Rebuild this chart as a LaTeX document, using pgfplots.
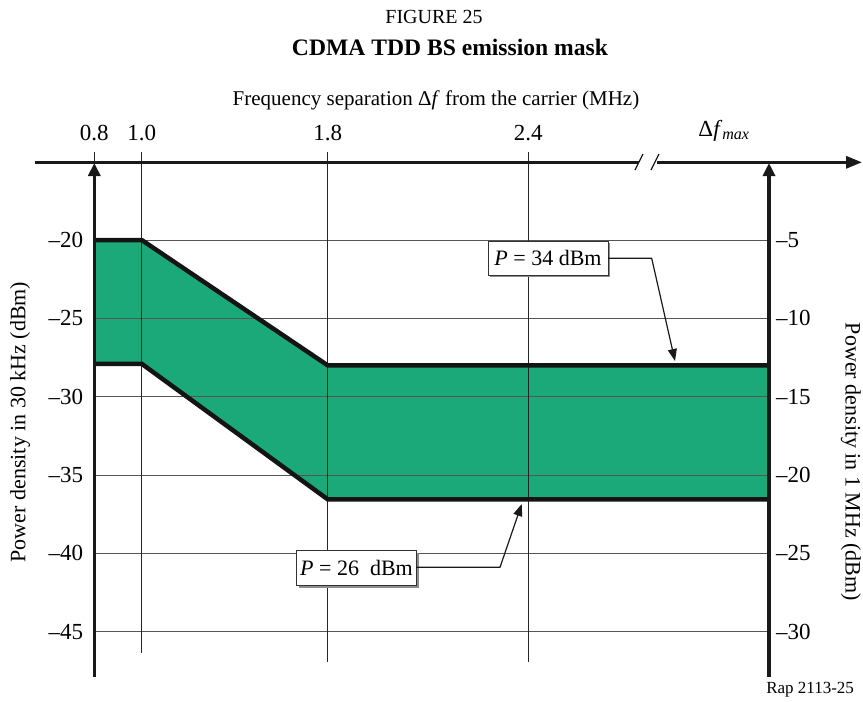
\documentclass[border=0pt]{standalone}
\usepackage{fontspec}
\setmainfont{Liberation Serif}
\usepackage{pgfplots}
\usepackage{pgfplotstable}
\pgfplotsset{compat=1.18}
\usepgfplotslibrary{fillbetween}
\usetikzlibrary{arrows.meta,shadows}

\definecolor{maskgreen}{RGB}{28,169,121}
\definecolor{gridgray}{RGB}{85,85,85}

% x positions are drawn to the figure's (non-linear) scale:
% 0.8 -> 0, 1.0 -> 47.4, 1.8 -> 233.4, 2.4 -> 434, df_max -> 674.7
\pgfplotstableread{
x      y
0      -20
47.4   -20
233.4  -28
674.7  -28
}\upperdata
\pgfplotstableread{
x      y
0      -27.9
47.4   -27.9
233.4  -36.55
674.7  -36.55
}\lowerdata

\begin{document}
\begin{tikzpicture}

\begin{axis}[
    at={(47.15pt,-338.35pt)}, anchor=south west,
    scale only axis, width=337.35pt, height=257.2pt,
    xmin=0, xmax=674.7, ymin=-47.87, ymax=-15.04,
    clip=false,
    axis line style={draw=none},
    major tick length=0pt,
    ticklabel style={font=\fontsize{11.5}{13}\selectfont},
    xtick={0,47.4,233.4,434,630},
    xticklabels={0.8,1.0,1.8,2.4,{Δ\textit{f}\textsubscript{\textit{max}}}},
    xticklabel pos=upper,
    xticklabel style={yshift=7pt},
    ytick={-45,-40,-35,-30,-25,-20},
    yticklabels={\textendash45,\textendash40,\textendash35,\textendash30,\textendash25,\textendash20},
    yticklabel style={xshift=-2pt},
  ]
  \addplot[name path=up, draw=none] table {\upperdata};
  \addplot[name path=low, draw=none] table {\lowerdata};
  \addplot[fill=maskgreen, draw=none] fill between[of=up and low];

  % grid
  \pgfplotsinvokeforeach{-45,-40,-35,-30,-25,-20}{
    \draw[gridgray, line width=0.5pt] (axis cs:0,#1) -- (axis cs:674.7,#1);
  }
  \draw[black!85, line width=0.5pt] (axis cs:47.4,-14.38) -- (axis cs:47.4,-46.36);
  \draw[black!85, line width=0.5pt] (axis cs:233.4,-14.38) -- (axis cs:233.4,-46.93);
  \draw[black!85, line width=0.5pt] (axis cs:434,-14.38) -- (axis cs:434,-46.93);
  \draw[black!85, line width=0.5pt] (axis cs:0,-14.38) -- (axis cs:0,-15.04);

  % mask limits
  \addplot[black!92, line width=2.25pt, line join=miter] table {\upperdata};
  \addplot[black!92, line width=2.25pt, line join=miter] table {\lowerdata};
\end{axis}

\begin{axis}[
    at={(47.15pt,-338.35pt)}, anchor=south west,
    scale only axis, width=337.35pt, height=257.2pt,
    xmin=0, xmax=674.7, ymin=-32.87, ymax=-0.04,
    axis line style={draw=none},
    major tick length=0pt,
    ticklabel style={font=\fontsize{11.5}{13}\selectfont},
    xtick=\empty,
    ytick={-30,-25,-20,-15,-10,-5},
    yticklabels={\textendash30,\textendash25,\textendash20,\textendash15,\textendash10,\textendash5},
    yticklabel pos=right,
  ]
  \addplot[draw=none] coordinates {(0,-30) (674.7,-5)};
\end{axis}

\begin{scope}[x=0.5pt,y=-0.5pt]
% axes
\draw[black!90, line width=1.6pt] (35,162.3) -- (639,162.3);
\draw[black!90, line width=1.6pt, -{Triangle[length=8pt,width=6pt]}] (657,162.3) -- (862,162.3);
\draw[black!90, line width=0.6pt] (635,170) -- (643,154);
\draw[black!90, line width=0.6pt] (651,170) -- (659,154);
\draw[black!90, line width=1.6pt, -{Triangle[length=6.5pt,width=6pt]}] (94.3,676.7) -- (94.3,163);
\draw[black!90, line width=1.6pt, -{Triangle[length=6.5pt,width=6pt]}] (769,676.7) -- (769,163);

% annotations
\node[draw=black!80, line width=0.5pt, fill=white, minimum width=60pt, minimum height=17pt,
      inner sep=1pt, font=\fontsize{11}{13}\selectfont,
      drop shadow={shadow xshift=1.2pt, shadow yshift=-1.2pt, fill=black!45, opacity=1}]
  at (548,258) {\textit{P} = 34 dBm};
\draw[black!90, line width=0.6pt, -{Triangle[length=6pt,width=4.5pt]}] (608,258.3) -- (651.7,258.3) -- (675,361);
\node[draw=black!80, line width=0.5pt, fill=white, minimum width=60pt, minimum height=17.5pt,
      inner sep=1pt, font=\fontsize{11}{13}\selectfont,
      drop shadow={shadow xshift=1.2pt, shadow yshift=-1.2pt, fill=black!45, opacity=1}]
  at (356.5,568) {\textit{P} = 26\enspace dBm};
\draw[black!90, line width=0.6pt, -{Triangle[length=6pt,width=4.5pt]}] (416,567.3) -- (500,567.3) -- (521.7,504);

% titles and labels
\node[font=\fontsize{10}{12}\selectfont] at (434,17) {FIGURE 25};
\node[font=\fontsize{11.8}{14}\selectfont\bfseries] at (450,47) {CDMA TDD BS emission mask};
\node[font=\fontsize{10.5}{12}\selectfont] at (436,100) {Frequency separation Δ\textit{f} from the carrier (MHz)};
\node[rotate=90, font=\fontsize{11}{13}\selectfont] at (20,422) {Power density in 30 kHz (dBm)};
\node[rotate=-90, font=\fontsize{11}{13}\selectfont] at (851,462) {Power density in 1 MHz (dBm)};
\node[font=\fontsize{8.5}{10}\selectfont, anchor=east] at (861,690) {Rap 2113-25};

\pgfresetboundingbox
\path[use as bounding box] (0,0) rectangle (863,702);
\end{scope}
\end{tikzpicture}
\end{document}
